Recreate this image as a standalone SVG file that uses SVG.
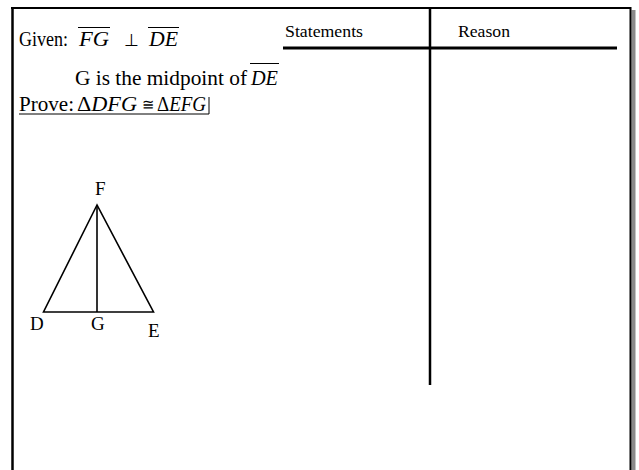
<svg xmlns="http://www.w3.org/2000/svg" width="639" height="470" viewBox="0 0 639 470">
<style>
.t{font-family:"Liberation Serif","Times New Roman",serif;fill:#000}
.i{font-style:italic}
.ln{stroke:#000;fill:none}
</style>
<rect x="0" y="0" width="639" height="470" fill="#fff"/>
<g id="frame">
<line x1="633.5" y1="10" x2="633.5" y2="470" stroke="#8a8a8a" stroke-width="4"/>
<line class="ln" x1="11" y1="8" x2="631" y2="8" stroke-width="2"/>
<line class="ln" x1="12.5" y1="7" x2="12.5" y2="470" stroke-width="2.5"/>
<line class="ln" x1="630.5" y1="7" x2="630.5" y2="470" stroke-width="2"/>
</g>
<g id="table">
<line class="ln" x1="430" y1="8" x2="430" y2="385" stroke-width="2.5"/>
<line class="ln" x1="283" y1="48" x2="617" y2="48" stroke-width="3"/>
<text class="t" x="285" y="37" font-size="17.5" textLength="78" lengthAdjust="spacingAndGlyphs">Statements</text>
<text class="t" x="458" y="37" font-size="17.5" textLength="52" lengthAdjust="spacingAndGlyphs">Reason</text>
</g>
<g id="given">
<text class="t" x="19" y="46" font-size="20" textLength="49" lengthAdjust="spacingAndGlyphs">Given:</text>
<text class="t i" x="79" y="46" font-size="20" textLength="30" lengthAdjust="spacingAndGlyphs">FG</text>
<line class="ln" x1="78" y1="27.5" x2="110" y2="27.5" stroke-width="1"/>
<text class="t" x="124" y="46" font-size="17" font-family="DejaVu Serif">⊥</text>
<text class="t i" x="149" y="46" font-size="20" textLength="29" lengthAdjust="spacingAndGlyphs">DE</text>
<line class="ln" x1="148" y1="27.5" x2="179" y2="27.5" stroke-width="1"/>
<text class="t" x="75" y="85" font-size="20" textLength="172" lengthAdjust="spacingAndGlyphs">G is the midpoint of</text>
<text class="t i" x="251" y="85" font-size="20" textLength="27" lengthAdjust="spacingAndGlyphs">DE</text>
<line class="ln" x1="250" y1="63.5" x2="279" y2="63.5" stroke-width="1"/>
</g>
<g id="prove">
<text class="t" x="19" y="111" font-size="20" textLength="55" lengthAdjust="spacingAndGlyphs">Prove:</text>
<text class="t" x="77" y="111" font-size="20" textLength="60" lengthAdjust="spacingAndGlyphs">Δ<tspan class="i">DFG</tspan></text>
<text class="t" x="142" y="110" font-size="16" textLength="12" lengthAdjust="spacingAndGlyphs">≅</text>
<text class="t" x="157" y="111" font-size="20" textLength="49" lengthAdjust="spacingAndGlyphs">Δ<tspan class="i">EFG</tspan></text>
<line class="ln" x1="19" y1="114" x2="209" y2="114" stroke-width="1"/>
<line class="ln" x1="209" y1="97" x2="209" y2="114" stroke-width="1"/>
</g>
<g id="triangle">
<polygon class="ln" points="97,205 43.5,312 153.5,312" stroke-width="1.6" stroke-linejoin="miter"/>
<line class="ln" x1="97" y1="205" x2="97" y2="312" stroke-width="1.6"/>
</g>
<g id="label-F"><text class="t" x="95" y="195" font-size="19">F</text></g>
<g id="label-D"><text class="t" x="30" y="330" font-size="19">D</text></g>
<g id="label-G"><text class="t" x="91" y="330" font-size="19">G</text></g>
<g id="label-E"><text class="t" x="148" y="337" font-size="19">E</text></g>
</svg>
